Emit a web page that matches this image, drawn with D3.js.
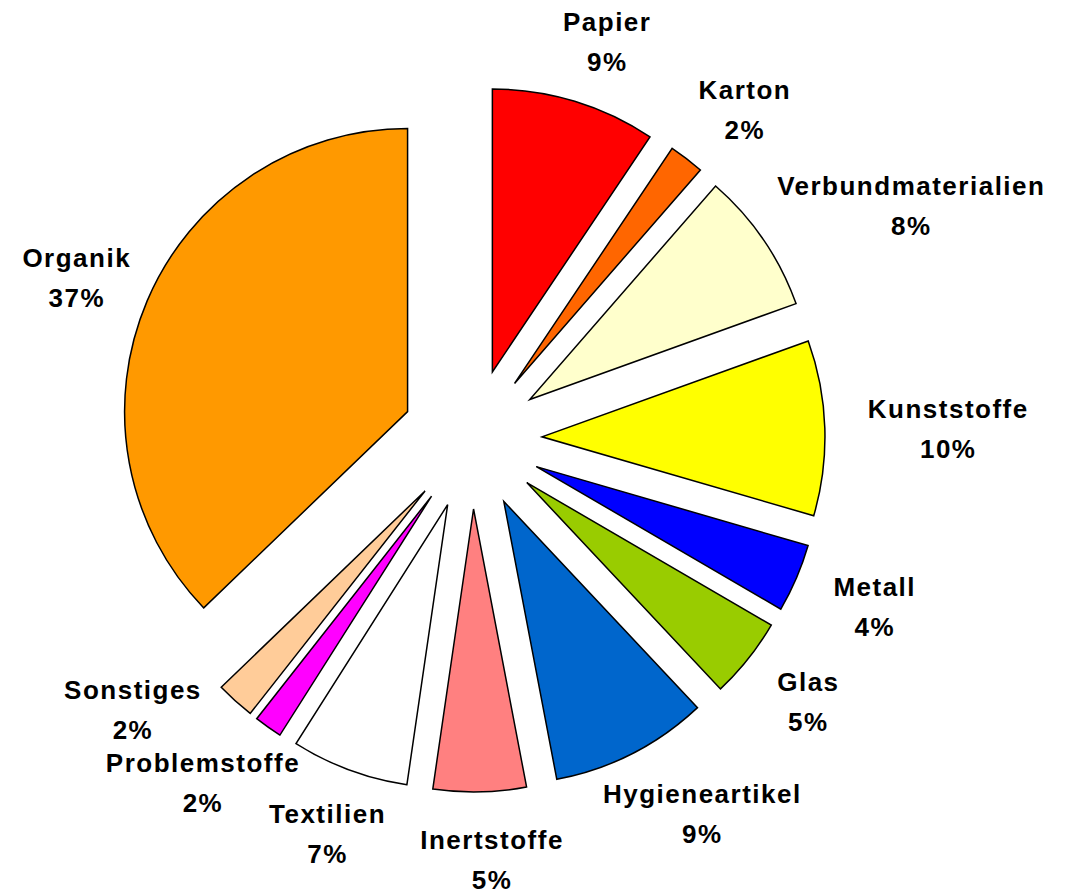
<!DOCTYPE html>
<html lang="de">
<head>
  <meta charset="UTF-8">
  <title>Abfallzusammensetzung</title>
  <style>
    body { margin: 0; background: #fff; }
    .lbl { font-family: "Liberation Sans", Arial, sans-serif; font-weight: bold; font-size: 26px; letter-spacing: 1.5px; fill: #000; }
  </style>
</head>
<body>
  <svg id="svg" width="1084" height="894"></svg>

  <script src="https://d3js.org/d3.v7.min.js"></script>
  <script>
    // data (share of total, clockwise from 12 o'clock)
    const categories = ['Papier', 'Karton', 'Verbundmaterialien', 'Kunststoffe', 'Metall', 'Glas',
      'Hygieneartikel', 'Inertstoffe', 'Textilien', 'Problemstoffe', 'Sonstiges', 'Organik']
    const values = [9.4, 2.0, 8.1, 10.0, 3.9, 4.6, 9.0, 5.3, 6.7, 1.6, 2.2, 37.2]
    const colors = ['#ff0000', '#ff6600', '#ffffcc', '#ffff00', '#0000ff', '#99cc00',
      '#0066cc', '#ff8080', '#ffffff', '#ff00ff', '#ffcc99', '#ff9900']

    const data = categories.map((name, i) => ({ name, value: values[i], color: colors[i] }))
    const total = d3.sum(values)

    const cx = 472, cy = 439
    const radius = 283
    const explode = 70      // distance each slice is pulled out
    const labelR = 386      // distance of label anchor from centre
    const labelShiftX = 10
    const labelShiftY = 3
    const lineGap = 40

    const svg = d3.select('#svg')
    const g = svg.append('g').attr('transform', `translate(${cx}, ${cy})`)

    const pie = d3.pie().sort(null).value(d => d.value)
    const arc = d3.arc().innerRadius(0).outerRadius(radius)
    const arcs = pie(data)

    const dir = a => [Math.sin(a), -Math.cos(a)]

    // slices
    g.selectAll('path')
      .data(arcs)
      .enter()
      .append('path')
      .attr('d', arc)
      .attr('fill', d => d.data.color)
      .attr('stroke', '#000')
      .attr('stroke-width', 1.5)
      .attr('transform', d => {
        const [ux, uy] = dir((d.startAngle + d.endAngle) / 2)
        return `translate(${ux * explode}, ${uy * explode})`
      })

    // labels: two lines, name and rounded percent
    const labels = g.selectAll('text')
      .data(arcs)
      .enter()
      .append('text')
      .attr('class', 'lbl')
      .attr('text-anchor', 'middle')

    labels.append('tspan').attr('class', 'l1').attr('x', 0).text(d => d.data.name)
    labels.append('tspan').attr('class', 'l2').attr('x', 0).text(d => Math.round(d.data.value / total * 100) + '%')

    const h = 64          // box height used for placement
    const lineH = 32      // ink height of one line, for collisions
    const placedLines = []
    const hit = (a, b) => !(a.x + a.w / 2 < b.x - b.w / 2 || b.x + b.w / 2 < a.x - a.w / 2 ||
      a.y + lineH / 2 < b.y - lineH / 2 || b.y + lineH / 2 < a.y - lineH / 2)

    labels.each(function (d) {
      const t = d3.select(this)
      const w1 = t.select('.l1').node().getComputedTextLength()
      const w2 = t.select('.l2').node().getComputedTextLength()
      const w = Math.max(w1, w2)
      let ang = (d.startAngle + d.endAngle) / 2
      let x, y, lines
      // turn the label clockwise until it clears the ones already placed
      for (let k = 0; k < 60; k++) {
        const [ux, uy] = dir(ang)
        x = (labelR + w / 2) * ux + labelShiftX
        y = (labelR + h / 2) * uy + labelShiftY
        lines = [{ x, y: y - lineGap / 2, w: w1 }, { x, y: y + lineGap / 2, w: w2 }]
        if (!lines.some(l => placedLines.some(p => hit(p, l)))) break
        ang += Math.PI / 180
      }
      placedLines.push(...lines)
      t.selectAll('tspan').attr('x', x)
      t.select('.l1').attr('y', y - lineGap / 2).attr('dominant-baseline', 'central')
      t.select('.l2').attr('y', y + lineGap / 2).attr('dominant-baseline', 'central')
    })
  </script>
</body>
</html>
